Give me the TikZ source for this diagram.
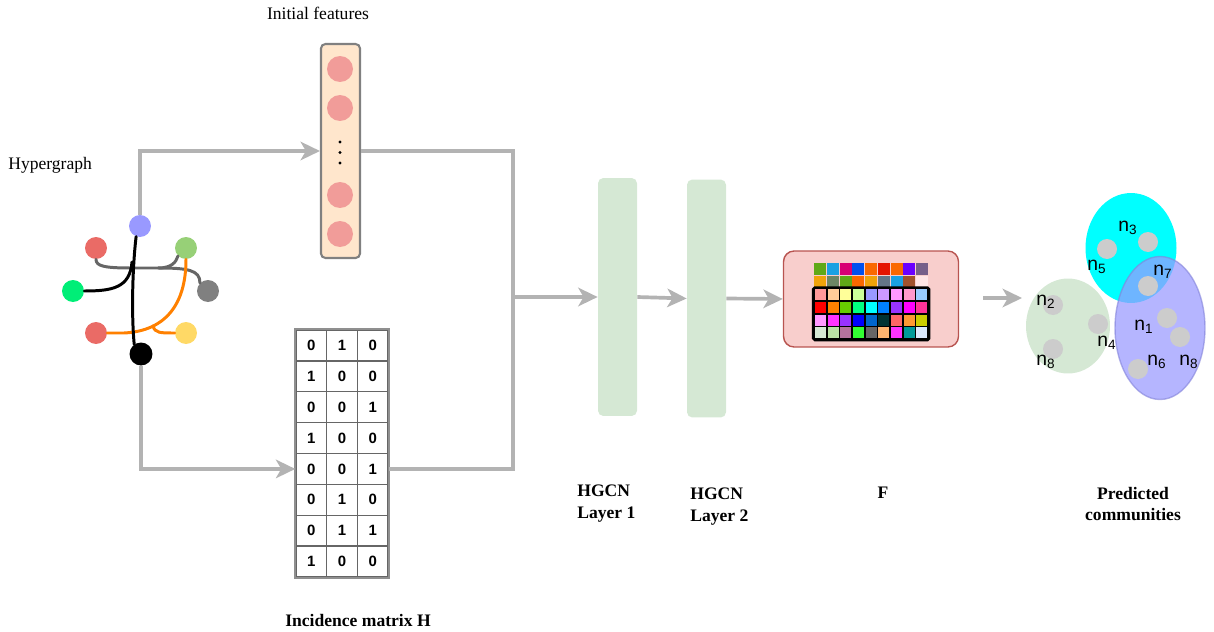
\documentclass[tikz,border=0pt]{standalone}
\usepackage{fontspec}
\setmainfont{Liberation Serif}
\newfontfamily\arialfont{Liberation Sans}
\usetikzlibrary{arrows.meta,shapes.geometric}

\definecolor{flowgray}{HTML}{B3B3B3}
\definecolor{featfill}{HTML}{FFE6CC}
\definecolor{featdot}{HTML}{F19C99}
\definecolor{layerfill}{HTML}{D5E8D4}
\definecolor{ffill}{HTML}{F8CECC}
\definecolor{fdraw}{HTML}{B85450}
\definecolor{hpurple}{HTML}{9999FF}
\definecolor{hred}{HTML}{EA6B66}
\definecolor{hlgreen}{HTML}{97D077}
\definecolor{hgreen}{HTML}{00EE77}
\definecolor{hgray}{HTML}{808080}
\definecolor{hyellow}{HTML}{FFD966}
\definecolor{edgegray}{HTML}{666666}
\definecolor{edgeorange}{HTML}{FF8000}
\definecolor{commgreen}{HTML}{D5E8D4}
\definecolor{commcyan}{HTML}{00FFFF}
\definecolor{commblue}{HTML}{9999FF}
\definecolor{commdot}{HTML}{CCCCCC}

\tikzset{
  flowline/.style={draw=flowgray, line width=2.1pt},
  flow/.style={flowline, -{Stealth[length=11pt,width=10.5pt,inset=3pt]}},
  lbl/.style={font=\fontsize{10}{12.5}\selectfont, inner sep=0pt},
  blbl/.style={font=\fontsize{10}{12.5}\selectfont\bfseries, inner sep=0pt},
  featbox/.style={rectangle, rounded corners=2.5pt, fill=featfill, draw=hgray,
    line width=1.2pt, minimum width=0.78cm, minimum height=4.28cm, inner sep=0pt},
  featcirc/.style={circle, fill=featdot, minimum size=0.52cm, inner sep=0pt},
  tinydot/.style={circle, fill=black, minimum size=1.8pt, inner sep=0pt},
  cell/.style={rectangle, draw=edgegray, line width=0.8pt, minimum width=0.6134cm,
    minimum height=0.6175cm, inner sep=0pt, font=\arialfont\bfseries\fontsize{8.5}{10}\selectfont},
  layer/.style={rectangle, rounded corners=3pt, fill=layerfill, minimum width=0.78cm,
    minimum height=4.76cm, inner sep=0pt},
  fbox/.style={rectangle, rounded corners=6pt, fill=ffill, draw=fdraw, line width=0.8pt,
    minimum width=3.5cm, minimum height=1.92cm, inner sep=0pt},
  swatch/.style={rectangle, minimum size=0.24cm, inner sep=0pt},
  hnode/.style={circle, minimum size=0.44cm, inner sep=0pt},
  hedge/.style={line width=1.7pt, line cap=round},
  comm/.style={ellipse, inner sep=0pt},
  cdot/.style={circle, fill=commdot, minimum size=0.4cm, inner sep=0pt},
  nlab/.style={font=\arialfont\fontsize{11}{12}\selectfont, inner sep=0pt},
}

\begin{document}
\begin{tikzpicture}[x=0.02cm, y=-0.02cm]
\useasboundingbox (0,0) rectangle (1214,632);

% ---------- captions ----------
\node[lbl] (tinit) at (318,13) {Initial features};
\node[lbl, anchor=west] (thyper) at (8,165) {Hypergraph};
\node[blbl] (tinc) at (358,620) {Incidence matrix H};
\node[blbl, align=left, anchor=west] (tl1) at (577,504) {HGCN\\Layer 1};
\node[blbl, align=left, anchor=west] (tl2) at (690,507) {HGCN\\Layer 2};
\node[blbl] (tf) at (883,493) {F};
\node[blbl, align=center] (tpred) at (1133,504) {Predicted\\communities};

% ---------- hypergraph ----------
\node[hnode, fill=hpurple] (hp) at (140,226) {};
\node[hnode, fill=hred] (hr1) at (96,248) {};
\node[hnode, fill=hlgreen] (hl) at (186,248) {};
\node[hnode, fill=hgreen] (hg) at (73,291) {};
\node[hnode, fill=hgray] (hy) at (208,291) {};
\node[hnode, fill=hred] (hr2) at (96,333) {};
\node[hnode, fill=hyellow] (hyel) at (186,333) {};
\node[hnode, fill=black, minimum size=0.46cm] (hk) at (141,354) {};

\coordinate (gj) at (131,268);
\coordinate (graytrunk) at (158,268);
\coordinate (orj) at (153,326);

% gray hyperedge
\draw[hedge, edgegray] (hr1.270) .. controls (96,266) and (104,268) .. (gj) -- (graytrunk)
  .. controls (172,268) and (176,262) .. (hl.225);
\draw[hedge, edgegray] (graytrunk) .. controls (188,268) and (200,270) .. (hy.135);
% orange hyperedge
\draw[hedge, edgeorange] (hr2.east) -- (124,333) .. controls (165,331) and (186,305) .. (hl.270);
\draw[hedge, edgeorange] (orj) .. controls (155,333) and (160,333) .. (hyel.west);
% black hyperedge
\draw[hedge, black] (hp.250) .. controls (133,262) and (131,310) .. (hk.125);
\draw[hedge, black] (hg.east) .. controls (112,291) and (130,288) .. (132,262);

% ---------- initial features ----------
\node[featbox] (feat) at (340.5,151) {};
\node[featcirc] (fc1) at (340,69) {};
\node[featcirc] (fc2) at (340,108) {};
\node[featcirc] (fc3) at (340,195) {};
\node[featcirc] (fc4) at (340,234) {};
\node[tinydot] (fd1) at (340,142) {};
\node[tinydot] (fd2) at (340,152.5) {};
\node[tinydot] (fd3) at (340,163) {};

% ---------- incidence matrix ----------
\foreach \vals [count=\r] in {{0,1,0},{1,0,0},{0,0,1},{1,0,0},{0,0,1},{0,1,0},{0,1,1},{1,0,0}} {
  \foreach \v [count=\c] in \vals {
    \node[cell] (m-\r-\c) at ({296+30.67*(\c-0.5)},{330+30.875*(\r-0.5)}) {\v};
  }
}
\draw[draw=flowgray!80!black, line width=1.2pt] (m-1-1.north west) rectangle (m-8-3.south east);

% ---------- flow arrows ----------
\coordinate (join) at (513,297);
\draw[flow] (hp.north) |- (feat.west);
\draw[flow] (hk.south) |- (m-5-1.west);
\draw[flowline] (feat.east) -| (join);
\draw[flowline] (m-5-3.east) -| (join);

% ---------- HGCN layers ----------
\node[layer] (l1) at (617.5,297) {};
\node[layer] (l2) at (706.5,298.5) {};
\draw[flow] (join) -- (l1.west);
\draw[flow] (l1.east) -- (l2.west);

% ---------- output embedding F ----------
\node[fbox] (fb) at (871,299) {};
\draw[flow] (l2.east) -- (fb.west);

\foreach \hex [count=\c] in {60A917,1BA1E2,D80073,0050EF,FA6800,E51400,FA6800,6A00FF,76608A} {
  \definecolor{swc}{HTML}{\hex}
  \node[swatch, fill=swc] (sa-\c) at ({814+12.7*(\c-0.5)},{263+12.7*0.5}) {};
}
\foreach \hex [count=\c] in {F0A30A,6D8764,60A917,FA6800,F0A30A,647687,1BA1E2,A0522D,FFE6E6} {
  \definecolor{swc}{HTML}{\hex}
  \node[swatch, fill=swc] (sb-\c) at ({814+12.7*(\c-0.5)},{263+12.7*1.5}) {};
}
\foreach \rowvals [count=\r] in {
  {FF9999,FFCC99,FFFF99,CCFF99,9999FF,CC99FF,FF99FF,FF99CC,99CCFF},
  {FF0000,FF8000,66CC00,00FF80,00FFFF,0080FF,9933FF,FF00FF,FF3399},
  {FF99FF,FF33FF,9933FF,0000FF,0066CC,003333,FF6666,FF9933,CCCC00},
  {D5E8D4,B9E0A5,B5739D,33FF33,666666,FFB570,FF33FF,009999,DAE8FC}} {
  \foreach \hex [count=\c] in \rowvals {
    \definecolor{swc}{HTML}{\hex}
    \node[swatch, fill=swc, draw=black, line width=1pt, minimum size=0.254cm]
      (sc-\r-\c) at ({814+12.7*(\c-0.5)},{263+12.7*(\r+1.5)}) {};
  }
}
\draw[black, line width=1.4pt, rounded corners=1pt] (sc-1-1.north west) rectangle (sc-4-9.south east);

% ---------- predicted communities ----------
\coordinate (pa) at (983,298);
\coordinate (pb) at (1022,298);
\draw[flow] (pa) -- (pb);

\node[comm, fill=commgreen, minimum width=1.68cm, minimum height=1.9cm] (cg) at (1068,326) {};
\node[comm, fill=commcyan, minimum width=1.82cm, minimum height=2.2cm] (cc) at (1131,248) {};
\node[comm, fill=commblue, fill opacity=0.72, draw=commblue!85!black, draw opacity=0.6,
  line width=0.8pt, minimum width=1.8cm, minimum height=2.86cm] (cb) at (1160,328) {};

\node[cdot] (d5) at (1107,249) {};
\node[cdot] (d3) at (1148,242) {};
\node[cdot] (d7) at (1148,286) {};
\node[cdot] (d1) at (1167,318) {};
\node[cdot] (d8b) at (1180,337) {};
\node[cdot] (d6) at (1138,369) {};
\node[cdot] (d2) at (1053,305) {};
\node[cdot] (d8a) at (1053,349) {};
\node[cdot] (d4) at (1098,324) {};

\node[nlab] (n3) at (1128,228) {n\textsubscript{3}};
\node[nlab] (n5) at (1097,267) {n\textsubscript{5}};
\node[nlab] (n7) at (1163,272) {n\textsubscript{7}};
\node[nlab] (n2) at (1046,302) {n\textsubscript{2}};
\node[nlab] (n8a) at (1046,362) {n\textsubscript{8}};
\node[nlab] (n4) at (1107,343) {n\textsubscript{4}};
\node[nlab] (n1) at (1144,327) {n\textsubscript{1}};
\node[nlab] (n6) at (1157,362) {n\textsubscript{6}};
\node[nlab] (n8b) at (1189,362) {n\textsubscript{8}};
\end{tikzpicture}
\end{document}
